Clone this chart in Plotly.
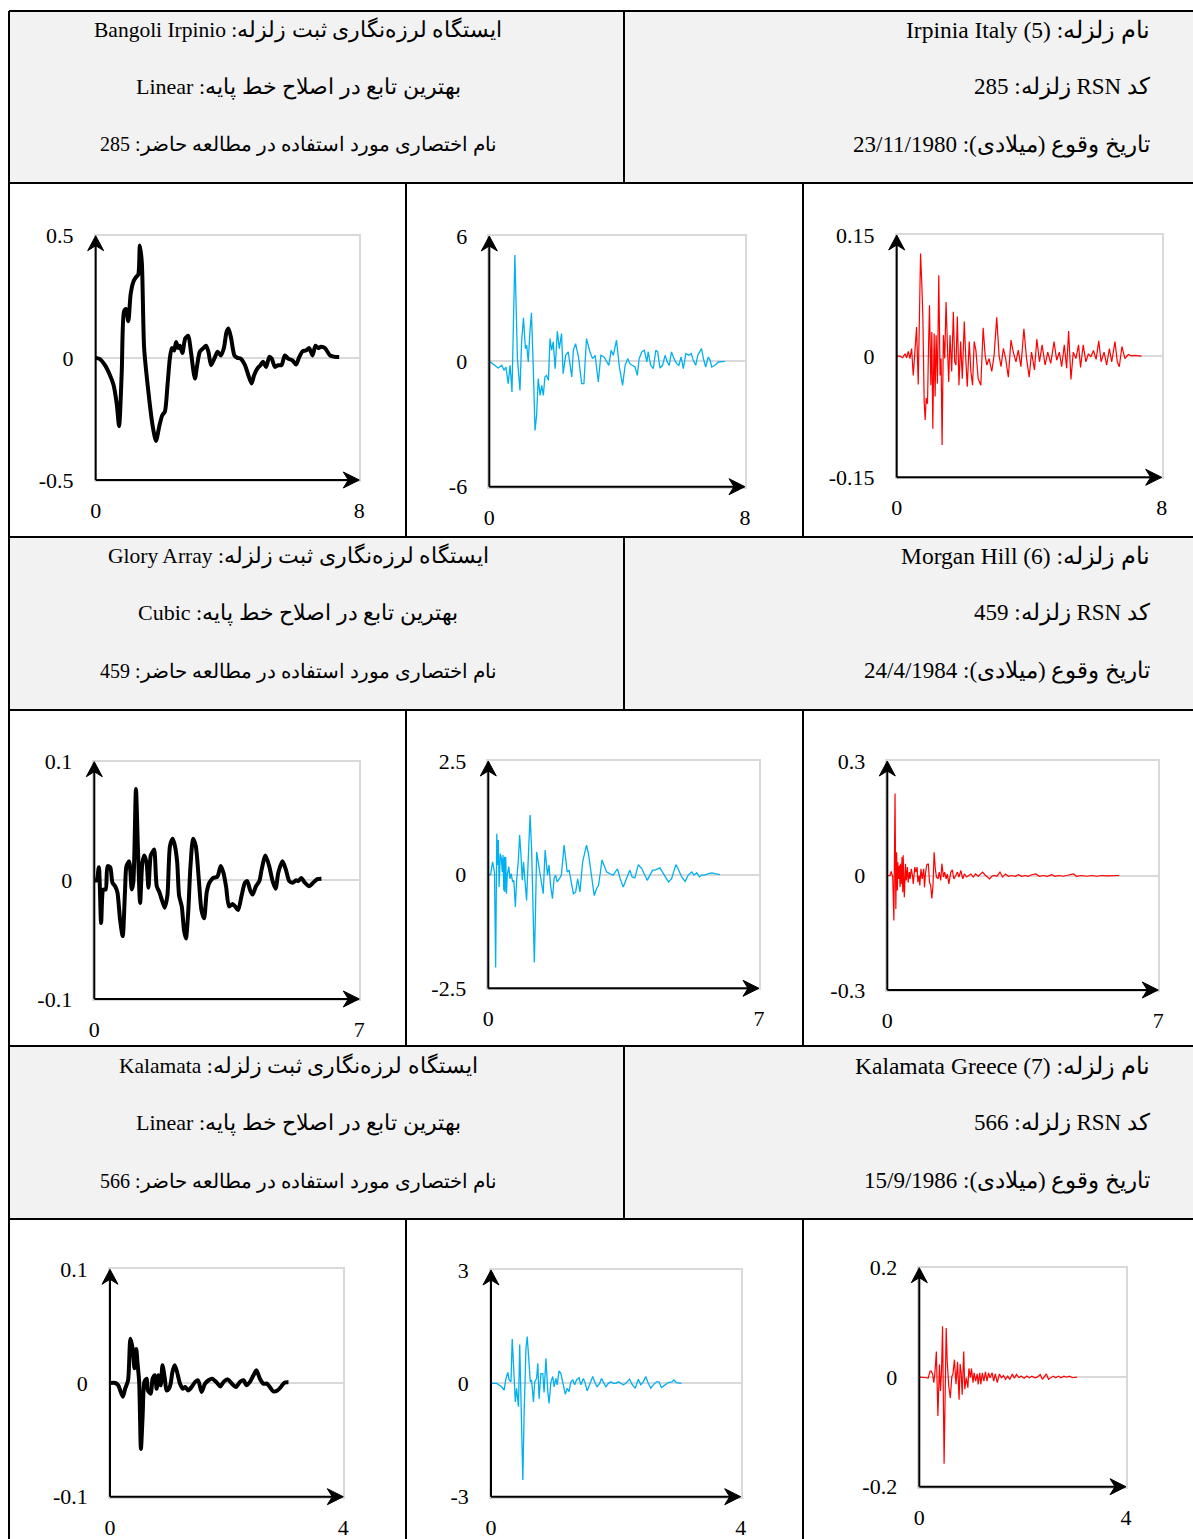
import plotly.graph_objects as go

W, H = 1193, 1539

# ---------------- data ----------------
# Irpinia Italy, RSN 285 : displacement / velocity / acceleration
t_d285 = [0, 0.13, 0.28, 0.43, 0.54, 0.64, 0.71, 0.79, 0.86, 0.92,
          0.99, 1.06, 1.14, 1.22, 1.29, 1.34, 1.40, 1.47, 1.60, 1.73,
          1.83, 1.93, 2.02, 2.10, 2.18, 2.25, 2.31, 2.38, 2.44, 2.51,
          2.56, 2.63, 2.72, 2.81, 2.89, 3.01, 3.08, 3.16, 3.27, 3.35,
          3.42, 3.50, 3.60, 3.70, 3.80, 3.89, 3.97, 4.03, 4.11, 4.21,
          4.30, 4.40, 4.53, 4.63, 4.73, 4.81, 4.90, 5.00, 5.08, 5.17,
          5.27, 5.34, 5.44, 5.54, 5.64, 5.74, 5.84, 5.97, 6.08, 6.18,
          6.28, 6.38, 6.48, 6.58, 6.67, 6.75, 6.84, 6.96, 7.11, 7.26,
          7.39]
d285 = [0, -0.005, -0.03, -0.07, -0.11, -0.19, -0.28, -0.06, 0.19, 0.20,
        0.15, 0.26, 0.31, 0.33, 0.34, 0.46, 0.39, 0.04, -0.14, -0.28,
        -0.34, -0.28, -0.235, -0.22, -0.11, -0.003, 0.04, 0.03, 0.065, 0.04,
        0.05, 0.02, 0.08, 0.09, 0.025, -0.085, -0.03, 0.025, 0.04, 0.05,
        0.025, -0.03, -0.003, 0.025, 0.01, 0.04, 0.105, 0.12, 0.08, 0.01,
        0.0, -0.003, -0.03, -0.07, -0.105, -0.07, -0.045, -0.03, -0.016, -0.037,
        0.004, -0.003, -0.037, -0.03, -0.03, 0.01, -0.003, -0.01, -0.027, 0.004,
        0.027, 0.03, 0.04, 0.01, 0.05, 0.04, 0.045, 0.04, 0.01, 0.004,
        0.003]

t_v285 = [0, 0.18, 0.28, 0.39, 0.46, 0.52, 0.59, 0.65, 0.71, 0.80,
          0.88, 0.96, 1.01, 1.07, 1.13, 1.17, 1.22, 1.27, 1.32, 1.38,
          1.43, 1.48, 1.53, 1.59, 1.64, 1.69, 1.74, 1.79, 1.85, 1.90,
          1.95, 2.00, 2.06, 2.13, 2.19, 2.26, 2.31, 2.39, 2.47, 2.58,
          2.63, 2.70, 2.79, 2.89, 2.96, 3.04, 3.15, 3.23, 3.31, 3.41,
          3.49, 3.59, 3.67, 3.74, 3.81, 3.88, 3.98, 4.07, 4.17, 4.25,
          4.33, 4.40, 4.47, 4.56, 4.63, 4.69, 4.77, 4.85, 4.93, 4.97,
          5.05, 5.13, 5.21, 5.27, 5.34, 5.42, 5.50, 5.57, 5.63, 5.70,
          5.78, 5.86, 5.93, 6.00, 6.07, 6.15, 6.24, 6.32, 6.38, 6.46,
          6.52, 6.59, 6.64, 6.70, 6.77, 6.85, 6.91, 6.96, 7.06, 7.17,
          7.27, 7.37]
v285 = [0, -0.19, -0.32, -0.19, -0.43, -0.27, -1.07, -0.19, -1.47, 5.09,
        0.13, -1.39, 0.93, 2.08, 0.61, 0.77, -0.03, 1.41, 2.32, -0.51,
        -3.31, -2.59, -0.83, -1.63, -1.15, -1.63, -0.75, -0.67, -0.91, 1.09,
        0.53, 0.93, -0.35, 1.44, 0.61, 1.33, -0.59, 0.29, 0.45, -0.75,
        0.53, 0.85, 0.21, -1.07, -1.07, 1.09, 0.45, 0.13, 0.29, -0.99,
        0.29, 0.21, -0.03, -0.19, 0.53, 0.29, 1.01, -0.27, -1.15, -0.19,
        0.13, -0.11, -0.19, -0.27, -0.67, 0.13, 0.45, 0.53, -0.03, 0.45,
        -0.19, -0.35, 0.53, 0.45, -0.32, -0.19, 0.29, -0.03, -0.19, 0.45,
        0.13, -0.11, -0.19, 0.21, -0.35, 0.37, 0.29, 0.37, 0.05, -0.19,
        0.29, 0.45, 0.61, 0.13, -0.27, 0.21, 0.05, -0.27, -0.19, -0.03,
        0, 0]

t_a285 = [0, 0.10, 0.18, 0.25, 0.30, 0.35, 0.40, 0.45, 0.50, 0.55,
          0.60, 0.65, 0.68, 0.72, 0.76, 0.79, 0.83, 0.86, 0.89, 0.93,
          0.96, 0.99, 1.03, 1.06, 1.09, 1.13, 1.16, 1.19, 1.23, 1.27,
          1.31, 1.34, 1.37, 1.41, 1.45, 1.49, 1.53, 1.57, 1.61, 1.66,
          1.71, 1.75, 1.79, 1.83, 1.88, 1.93, 1.98, 2.04, 2.09, 2.13,
          2.19, 2.24, 2.29, 2.34, 2.39, 2.46, 2.54, 2.61, 2.67, 2.72,
          2.79, 2.87, 2.94, 3.02, 3.09, 3.15, 3.22, 3.29, 3.37, 3.45,
          3.52, 3.60, 3.67, 3.75, 3.84, 3.92, 4.00, 4.07, 4.16, 4.23,
          4.31, 4.39, 4.48, 4.56, 4.65, 4.75, 4.83, 4.91, 4.98, 5.06,
          5.13, 5.19, 5.26, 5.33, 5.41, 5.49, 5.55, 5.63, 5.71, 5.79,
          5.86, 5.94, 6.02, 6.10, 6.17, 6.26, 6.34, 6.42, 6.49, 6.59,
          6.66, 6.72, 6.80, 6.89, 6.99, 7.09, 7.19, 7.39]
a285 = [0, 0, -0.002, 0.003, -0.002, 0.006, -0.003, 0.0095, -0.024, 0.003,
        0.036, -0.035, 0.018, 0.127, 0.088, 0.047, -0.057, -0.079, -0.052, -0.059,
        0.0095, 0.063, -0.036, 0.030, -0.090, 0.028, -0.050, 0.026, -0.034, 0.100,
        -0.024, -0.003, -0.110, 0.026, -0.003, 0.067, 0.014, -0.032, 0.026, -0.019,
        0.055, -0.007, -0.011, 0.049, -0.036, 0.018, -0.028, 0.043, -0.007, -0.038,
        0.018, -0.019, -0.036, 0.018, 0.0075, -0.028, -0.036, 0.035, 0.001, -0.011,
        -0.003, -0.019, 0.001, 0.048, 0.001, -0.013, 0.0095, -0.003, -0.026, 0.020,
        0.005, -0.007, 0.0075, -0.013, 0.034, -0.003, -0.026, 0.005, -0.017, 0.021,
        -0.007, 0.014, -0.011, 0.005, -0.009, 0.018, -0.005, 0.005, -0.013, 0.014,
        -0.015, 0.031, -0.029, 0.005, -0.003, 0.014, -0.014, 0.014, -0.007, 0.003,
        -0.001, 0.007, -0.004, 0.019, -0.007, 0.005, -0.011, 0.0095, -0.007, 0.018,
        -0.007, -0.013, 0.012, -0.003, 0.002, 0.0004, 0.001, 0]

# Morgan Hill, RSN 459
t_d459 = [0, 0.06, 0.12, 0.18, 0.24, 0.30, 0.35, 0.42, 0.48, 0.55,
          0.61, 0.68, 0.75, 0.81, 0.85, 0.92, 0.99, 1.03, 1.10, 1.15,
          1.21, 1.27, 1.32, 1.38, 1.43, 1.49, 1.53, 1.58, 1.65, 1.72,
          1.78, 1.86, 1.93, 2.00, 2.07, 2.13, 2.19, 2.24, 2.31, 2.37,
          2.42, 2.48, 2.54, 2.61, 2.68, 2.76, 2.83, 2.90, 2.97, 3.04,
          3.14, 3.25, 3.34, 3.41, 3.48, 3.56, 3.65, 3.72, 3.80, 3.89,
          3.98, 4.04, 4.11, 4.18, 4.27, 4.36, 4.42, 4.52, 4.62, 4.71,
          4.79, 4.86, 4.97, 5.06, 5.15, 5.24, 5.33, 5.39, 5.47, 5.56,
          5.68, 5.78, 5.89, 6.00]
d459 = [0, 0, 0.011, -0.036, -0.0077, -0.0077, 0.012, 0.011, -0.002, -0.005,
        -0.010, -0.033, -0.047, -0.010, 0.012, 0.016, -0.0077, -0.002, 0.077, 0.029,
        -0.019, 0.015, 0.021, 0.015, -0.0062, 0.021, 0.0235, 0.026, -0.005, -0.010,
        -0.016, -0.023, -0.013, 0.029, 0.035, 0.029, 0.015, -0.013, -0.022, -0.042,
        -0.049, -0.027, 0.012, 0.035, 0.029, 0.001, -0.025, -0.032, -0.010, -0.002,
        0.002, 0.003, 0.012, 0.0065, -0.005, -0.022, -0.020, -0.022, -0.025, -0.013,
        -0.002, -0.0006, -0.0077, -0.012, -0.005, -0.0006, 0.009, 0.021, 0.012, -0.0006,
        -0.007, 0.0065, 0.016, 0.009, -0.0006, -0.002, 0, -0.0006, 0.002, -0.002,
        -0.005, -0.002, 0.001, 0.0014]

t_v459 = [0, 0.06, 0.11, 0.16, 0.19, 0.22, 0.24, 0.26, 0.28, 0.31,
          0.34, 0.36, 0.38, 0.40, 0.42, 0.43, 0.45, 0.47, 0.49, 0.53,
          0.56, 0.59, 0.63, 0.66, 0.70, 0.73, 0.78, 0.81, 0.84, 0.88,
          0.91, 0.95, 0.99, 1.03, 1.08, 1.12, 1.16, 1.19, 1.22, 1.25,
          1.29, 1.34, 1.38, 1.42, 1.47, 1.53, 1.57, 1.61, 1.66, 1.70,
          1.74, 1.78, 1.84, 1.89, 1.96, 2.00, 2.04, 2.09, 2.15, 2.20,
          2.26, 2.31, 2.37, 2.44, 2.50, 2.54, 2.59, 2.65, 2.70, 2.74,
          2.80, 2.85, 2.90, 2.94, 2.99, 3.06, 3.15, 3.23, 3.34, 3.41,
          3.49, 3.58, 3.66, 3.72, 3.79, 3.88, 3.97, 4.03, 4.11, 4.18,
          4.25, 4.31, 4.37, 4.44, 4.50, 4.57, 4.66, 4.74, 4.80, 4.85,
          4.91, 5.00, 5.09, 5.17, 5.26, 5.32, 5.39, 5.46, 5.52, 5.60,
          5.69, 5.78, 5.86, 5.99]
v459 = [0, 0, 0.28, 0.06, -2.04, 0.90, 0.21, 0.76, -0.27, 0.46,
        0.35, 0.06, 0.43, -0.35, 0.39, -0.38, 0.39, -0.42, -0.01, 0.17,
        -0.09, 0.02, -0.16, -0.125, -0.71, -0.16, 0.35, 0.87, 0.50, -0.125,
        0.28, -0.16, -0.57, 0.28, 1.31, 0.57, -1.34, -1.93, -0.82, 0.50,
        0.28, -0.01, -0.16, -0.42, 0.54, -0.01, 0.21, -0.235, -0.53, -0.09,
        -0.01, -0.16, -0.09, -0.01, 0.65, 0.28, 0.06, 0.10, -0.235, -0.42,
        -0.38, -0.09, -0.38, 0.28, 0.50, 0.65, 0.46, 0.06, -0.27, -0.46,
        -0.31, -0.235, 0.06, 0.32, 0.21, 0.06, 0.02, -0.01, 0.13, -0.09,
        -0.27, -0.09, 0.10, -0.05, -0.07, 0.22, 0.13, 0.02, -0.125, -0.01,
        0.10, 0.10, 0.13, 0.15, 0.06, -0.05, -0.16, -0.09, 0.10, 0.22,
        0.13, -0.05, -0.15, -0.01, 0.06, -0.01, 0.04, -0.05, -0.01, -0.01,
        0.02, 0.04, 0.02, 0]

t_a459 = [0, 0.07, 0.10, 0.14, 0.17, 0.20, 0.22, 0.24, 0.26, 0.27,
          0.29, 0.31, 0.33, 0.34, 0.36, 0.38, 0.40, 0.41, 0.44, 0.47,
          0.49, 0.52, 0.54, 0.57, 0.59, 0.62, 0.65, 0.67, 0.71, 0.74,
          0.77, 0.79, 0.82, 0.84, 0.87, 0.90, 0.94, 0.96, 0.99, 1.02,
          1.06, 1.09, 1.12, 1.15, 1.18, 1.21, 1.24, 1.27, 1.31, 1.34,
          1.38, 1.41, 1.45, 1.48, 1.52, 1.55, 1.59, 1.64, 1.68, 1.72,
          1.77, 1.81, 1.85, 1.90, 1.95, 1.99, 2.05, 2.11, 2.16, 2.22,
          2.28, 2.35, 2.40, 2.46, 2.52, 2.58, 2.64, 2.70, 2.76, 2.83,
          2.91, 2.98, 3.05, 3.13, 3.21, 3.30, 3.39, 3.47, 3.56, 3.64,
          3.73, 3.84, 3.93, 4.03, 4.13, 4.25, 4.33, 4.44, 4.55, 4.63,
          4.72, 4.81, 4.89, 5.02, 5.15, 5.28, 5.41, 5.54, 5.67, 5.84,
          5.99]
a459 = [0, 0, 0.0105, -0.004, -0.118, 0.215, -0.088, 0.061, -0.039, 0.035,
        -0.009, 0.026, -0.031, 0.031, -0.022, 0.048, -0.044, 0.053, -0.057, 0.031,
        -0.013, 0.022, -0.018, 0.009, -0.009, 0.0175, 0, -0.022, 0.022, 0.009,
        0.022, -0.0175, 0, -0.026, 0.0175, -0.009, 0.0175, -0.031, 0.009, 0.028,
        0.031, -0.0175, -0.026, -0.060, -0.026, 0.061, 0.0175, -0.004, -0.009, 0.009,
        -0.013, 0.031, -0.004, 0.009, -0.009, 0.004, -0.022, 0.009, 0.015, -0.009,
        0, 0.009, -0.004, 0.013, -0.009, 0.004, -0.004, 0, 0.004, -0.004,
        0.004, -0.002, 0.004, 0.009, 0.002, -0.004, -0.009, -0.002, 0, -0.002,
        0.009, -0.004, 0.004, -0.002, 0, -0.002, 0.002, -0.002, 0, -0.002,
        0.002, 0.004, -0.002, 0, -0.002, 0.002, -0.002, 0, -0.002, 0,
        0.002, 0.004, -0.002, 0, -0.002, 0, -0.002, 0, -0.001, 0,
        0]

# Kalamata Greece, RSN 566
t_d566 = [0, 0.09, 0.14, 0.22, 0.26, 0.31, 0.35, 0.39, 0.42, 0.45,
          0.47, 0.50, 0.53, 0.56, 0.59, 0.63, 0.65, 0.70, 0.73, 0.77,
          0.80, 0.83, 0.87, 0.90, 0.94, 0.97, 1.01, 1.04, 1.07, 1.11,
          1.15, 1.20, 1.25, 1.29, 1.34, 1.40, 1.46, 1.51, 1.57, 1.63,
          1.69, 1.75, 1.82, 1.89, 1.95, 2.02, 2.09, 2.16, 2.23, 2.29,
          2.34, 2.40, 2.46, 2.51, 2.57, 2.63, 2.69, 2.74, 2.80, 2.87,
          2.93, 2.99, 3.06]
d566 = [0, 0, -0.002, -0.012, -0.005, 0.0024, 0.039, 0.030, 0.013, 0.030,
        0.0185, 0.001, -0.058, -0.0285, 0.001, 0.0038, -0.0065, -0.0094, 0.0038, 0.0068,
        -0.005, 0.0068, -0.002, 0.0156, 0.0038, -0.0065, -0.005, -0.0006, 0.0097, 0.0156,
        0.0097, -0.0006, -0.005, -0.0035, -0.0065, -0.0035, 0.001, 0.0024, -0.0079, -0.0006,
        0.0024, 0.0038, 0.001, -0.003, 0.001, 0.0032, -0.0006, -0.0035, 0.001, 0.0024,
        -0.002, 0.001, 0.0068, 0.0112, 0.0038, -0.0006, -0.0006, -0.0035, -0.0074, -0.0065,
        -0.0035, 0.0003, 0.0006]

t_v566 = [0, 0.09, 0.17, 0.21, 0.24, 0.27, 0.29, 0.32, 0.34, 0.37,
          0.39, 0.41, 0.44, 0.46, 0.49, 0.51, 0.53, 0.56, 0.58, 0.60,
          0.63, 0.65, 0.68, 0.70, 0.73, 0.75, 0.77, 0.80, 0.83, 0.85,
          0.88, 0.91, 0.93, 0.96, 0.99, 1.01, 1.04, 1.06, 1.09, 1.12,
          1.16, 1.19, 1.22, 1.25, 1.28, 1.31, 1.34, 1.37, 1.41, 1.44,
          1.48, 1.51, 1.54, 1.59, 1.63, 1.67, 1.70, 1.74, 1.77, 1.81,
          1.84, 1.88, 1.92, 1.96, 2.00, 2.04, 2.08, 2.12, 2.16, 2.22,
          2.26, 2.31, 2.36, 2.40, 2.44, 2.48, 2.52, 2.56, 2.60, 2.65,
          2.69, 2.73, 2.79, 2.84, 2.90, 2.93, 2.97, 3.05]
v566 = [0, 0, -0.09, -0.18, 0.13, 0.29, 0.09, 0.04, 1.17, 0.22,
        -0.49, -0.13, -0.62, 1.03, -0.84, -2.56, -0.84, 0.93, 1.24, 0.66,
        0.04, 0.09, -0.49, 0.04, 0.13, 0.53, -0.41, 0.26, 0.26, -0.24,
        0.66, -0.22, -0.53, 0.04, 0.18, -0.09, 0.13, -0.04, 0.33, 0.26,
        -0.04, -0.29, -0.13, -0.22, 0.04, 0.09, -0.04, 0.09, 0.15, -0.04,
        0.13, 0, -0.20, 0, 0.18, 0, -0.09, 0, 0.13, 0,
        -0.09, 0, 0.04, 0, 0, 0.04, 0, -0.04, 0, 0.11,
        -0.03, -0.13, 0.11, -0.04, 0.04, 0.18, 0, -0.13, -0.04, 0.04,
        0.04, -0.11, -0.04, 0.02, 0.04, 0.09, 0.02, 0]

t_a566 = [0, 0.08, 0.14, 0.17, 0.21, 0.23, 0.26, 0.28, 0.30, 0.33,
          0.36, 0.39, 0.41, 0.43, 0.45, 0.48, 0.50, 0.52, 0.54, 0.57,
          0.60, 0.63, 0.65, 0.68, 0.71, 0.74, 0.77, 0.79, 0.81, 0.83,
          0.86, 0.88, 0.91, 0.94, 0.96, 0.99, 1.01, 1.04, 1.06, 1.09,
          1.12, 1.14, 1.17, 1.19, 1.22, 1.25, 1.28, 1.31, 1.34, 1.37,
          1.41, 1.44, 1.47, 1.51, 1.55, 1.59, 1.63, 1.67, 1.71, 1.75,
          1.80, 1.84, 1.88, 1.93, 1.97, 2.03, 2.08, 2.13, 2.18, 2.24,
          2.28, 2.34, 2.38, 2.42, 2.46, 2.50, 2.55, 2.59, 2.64, 2.69,
          2.74, 2.80, 2.85, 2.90, 2.97, 3.05]
a566 = [0, 0, -0.001, -0.002, 0.011, 0.011, 0.005, -0.010, 0.005, 0.047,
        -0.071, 0.023, -0.025, 0.011, 0.093, -0.158, 0.005, 0.090, 0.029, -0.016,
        -0.038, 0.002, 0.005, 0.032, -0.013, 0.028, -0.041, 0.024, 0.008, -0.032,
        0.047, -0.022, -0.001, -0.019, 0.016, -0.001, 0.016, -0.010, 0.008, -0.007,
        0.006, -0.013, 0.008, -0.013, 0.008, -0.007, 0.010, -0.007, 0.008, -0.001,
        0.008, -0.007, 0.006, -0.010, 0.006, -0.001, 0.003, -0.004, 0.002, -0.004,
        0.006, -0.002, 0.005, -0.001, 0.002, -0.002, 0.002, -0.001, 0.002, -0.001,
        0, 0.005, -0.004, 0.002, 0.006, -0.004, -0.001, 0.002, -0.001, 0.002,
        -0.001, 0.002, 0, 0.002, -0.001, 0]

# tick labels
xticks_285 = ["0", "8"]
xticks_459 = ["0", "7"]
xticks_566 = ["0", "4"]
yticks_d285 = ["-0.5", "0", "0.5"]
yticks_v285 = ["-6", "0", "6"]
yticks_a285 = ["-0.15", "0", "0.15"]
yticks_d459 = ["-0.1", "0", "0.1"]
yticks_v459 = ["-2.5", "0", "2.5"]
yticks_a459 = ["-0.3", "0", "0.3"]
yticks_d566 = ["-0.1", "0", "0.1"]
yticks_v566 = ["-3", "0", "3"]
yticks_a566 = ["-0.2", "0", "0.2"]

# header texts
quake_285 = ["نام زلزله: Irpinia Italy (5)", "کد RSN زلزله: 285", "تاریخ وقوع (میلادی): 23/11/1980"]
station_285 = ["ایستگاه لرزه‌نگاری ثبت زلزله: Bangoli Irpinio", "بهترین تابع در اصلاح خط پایه: Linear",
               "نام اختصاری مورد استفاده در مطالعه حاضر: 285"]
quake_459 = ["نام زلزله: Morgan Hill (6)", "کد RSN زلزله: 459", "تاریخ وقوع (میلادی): 24/4/1984"]
station_459 = ["ایستگاه لرزه‌نگاری ثبت زلزله: Glory Array", "بهترین تابع در اصلاح خط پایه: Cubic",
               "نام اختصاری مورد استفاده در مطالعه حاضر: 459"]
quake_566 = ["نام زلزله: Kalamata Greece (7)", "کد RSN زلزله: 566", "تاریخ وقوع (میلادی): 15/9/1986"]
station_566 = ["ایستگاه لرزه‌نگاری ثبت زلزله: Kalamata", "بهترین تابع در اصلاح خط پایه: Linear",
               "نام اختصاری مورد استفاده در مطالعه حاضر: 566"]

# ---------------- layout (page pixels) ----------------
BLACK_DISP = dict(color="#000000", width=4, shape="spline", smoothing=0.7)
BLUE_VEL = dict(color="#00b0f0", width=1.3)
RED_ACC = dict(color="#ff0000", width=1.2)

charts = [
    (t_d285, d285, BLACK_DISP, xticks_285, yticks_d285, (95.7, 359.3, 235.7, 480.0)),
    (t_v285, v285, BLUE_VEL, xticks_285, yticks_v285, (489.3, 745.0, 236.0, 486.7)),
    (t_a285, a285, RED_ACC, xticks_285, yticks_a285, (896.7, 1161.7, 235.0, 477.3)),
    (t_d459, d459, BLACK_DISP, xticks_459, yticks_d459, (94.3, 359.3, 761.7, 999.0)),
    (t_v459, v459, BLUE_VEL, xticks_459, yticks_v459, (488.3, 759.0, 761.0, 988.3)),
    (t_a459, a459, RED_ACC, xticks_459, yticks_a459, (887.3, 1158.3, 761.0, 990.0)),
    (t_d566, d566, BLACK_DISP, xticks_566, yticks_d566, (110.0, 343.3, 1269.3, 1496.7)),
    (t_v566, v566, BLUE_VEL, xticks_566, yticks_v566, (491.0, 740.7, 1270.0, 1496.7)),
    (t_a566, a566, RED_ACC, xticks_566, yticks_a566, (919.3, 1126.0, 1267.7, 1486.7)),
]

headers = [
    (quake_285, station_285, 11, 183, [30, 87, 145]),
    (quake_459, station_459, 537, 710, [556, 613, 671]),
    (quake_566, station_566, 1046, 1219, [1066, 1123, 1181]),
]

# font size per header line (right cell mostly Latin, left cell mostly Persian)
RIGHT_SIZES = [23.5, 23, 23]
LEFT_SIZES = [21.5, 22, 20]


def px(x):
    return x / W


def py(y):
    return 1 - y / H


SERIF = "Liberation Serif, Times New Roman, serif"
TICKFONT = dict(family=SERIF, size=22, color="#000000")

fig = go.Figure()
layout = {}
shapes = []
annotations = []

for i, (tt, vv, lstyle, xt, yt, box) in enumerate(charts):
    k = "" if i == 0 else str(i + 1)
    L, R, T, B = box
    xmax = float(xt[-1])
    ymax = float(yt[-1])
    fig.add_trace(go.Scatter(x=tt, y=vv, mode="lines", line=lstyle,
                             xaxis="x" + k, yaxis="y" + k,
                             hoverinfo="skip", showlegend=False))
    layout["xaxis" + k] = dict(domain=[px(L), px(R)], anchor="y" + k, range=[0, xmax],
                               tickmode="array", tickvals=[float(v) for v in xt], ticktext=xt,
                               showgrid=False, zeroline=False, showline=True, mirror=True,
                               linecolor="#d9d9d9", linewidth=1.5, ticks="", automargin=False,
                               ticklabelstandoff=10, tickfont=TICKFONT, fixedrange=True)
    layout["yaxis" + k] = dict(domain=[py(B), py(T)], anchor="x" + k, range=[-ymax, ymax],
                               tickmode="array", tickvals=[float(v) for v in yt], ticktext=yt,
                               showgrid=False, zeroline=True, zerolinecolor="#d9d9d9",
                               zerolinewidth=1.5, showline=True, mirror=True, automargin=False,
                               linecolor="#d9d9d9", linewidth=1.5, ticks="",
                               ticklabelstandoff=16, tickfont=TICKFONT, fixedrange=True)
    # black axes with arrow heads
    shapes.append(dict(type="line", xref="paper", yref="paper", layer="above",
                       x0=px(L), y0=py(B), x1=px(R - 8), y1=py(B),
                       line=dict(color="#000000", width=2)))
    shapes.append(dict(type="line", xref="paper", yref="paper", layer="above",
                       x0=px(L), y0=py(B), x1=px(L), y1=py(T + 8),
                       line=dict(color="#000000", width=2)))
    pts = [(R, B), (R - 16, B - 8), (R - 11, B), (R - 16, B + 8)]
    shapes.append(dict(type="path", xref="paper", yref="paper", layer="above",
                       path="M " + " L ".join(f"{px(a):.5f},{py(b):.5f}" for a, b in pts) + " Z",
                       fillcolor="#000000", line=dict(color="#000000", width=1)))
    pts = [(L, T), (L - 8, T + 15), (L, T + 10), (L + 8, T + 15)]
    shapes.append(dict(type="path", xref="paper", yref="paper", layer="above",
                       path="M " + " L ".join(f"{px(a):.5f},{py(b):.5f}" for a, b in pts) + " Z",
                       fillcolor="#000000", line=dict(color="#000000", width=1)))


def rtl(s):
    # right-to-left embedding; keep a trailing Latin ")" on the Latin side
    tail = "\u200e" if s.endswith(")") else ""
    return "\u202b" + s + tail + "\u202c"


for quake, station, ytop, ybot, ylines in headers:
    shapes.append(dict(type="rect", xref="paper", yref="paper", layer="below",
                       x0=px(9), x1=px(W), y0=py(ybot), y1=py(ytop),
                       fillcolor="#f2f2f2", line=dict(width=0)))
    shapes.append(dict(type="line", xref="paper", yref="paper", layer="above",
                       x0=px(624), x1=px(624), y0=py(ybot), y1=py(ytop),
                       line=dict(color="#000000", width=2)))
    for s, yl, fs in zip(quake, ylines, RIGHT_SIZES):
        annotations.append(dict(xref="paper", yref="paper", x=px(1152), y=py(yl),
                                xanchor="right", yanchor="middle", showarrow=False,
                                text=rtl(s), font=dict(family=SERIF, size=fs, color="#000000")))
    for s, yl, fs in zip(station, ylines, LEFT_SIZES):
        annotations.append(dict(xref="paper", yref="paper", x=px(298), y=py(yl),
                                xanchor="center", yanchor="middle", showarrow=False,
                                text=rtl(s), font=dict(family=SERIF, size=fs, color="#000000")))

# table grid lines
for yh in [11, 183, 537, 710, 1046, 1219]:
    shapes.append(dict(type="line", xref="paper", yref="paper", layer="above",
                       x0=px(9), x1=px(W), y0=py(yh), y1=py(yh),
                       line=dict(color="#000000", width=2)))
shapes.append(dict(type="line", xref="paper", yref="paper", layer="above",
                   x0=px(9), x1=px(9), y0=py(11), y1=py(H),
                   line=dict(color="#000000", width=2)))
for (y0, y1) in [(183, 537), (710, 1046), (1219, H)]:
    for xv in [406, 803]:
        shapes.append(dict(type="line", xref="paper", yref="paper", layer="above",
                           x0=px(xv), x1=px(xv), y0=py(y0), y1=py(y1),
                           line=dict(color="#000000", width=2)))

fig.update_layout(template="none", width=W, height=H, autosize=False,
                  margin=dict(l=0, r=0, t=0, b=0, pad=0),
                  paper_bgcolor="#ffffff", plot_bgcolor="#ffffff",
                  showlegend=False, shapes=shapes, annotations=annotations, **layout)

fig.write_html("out.html", config={"displayModeBar": False},
               post_script="document.body.style.margin='0';document.body.style.overflow='hidden';")
